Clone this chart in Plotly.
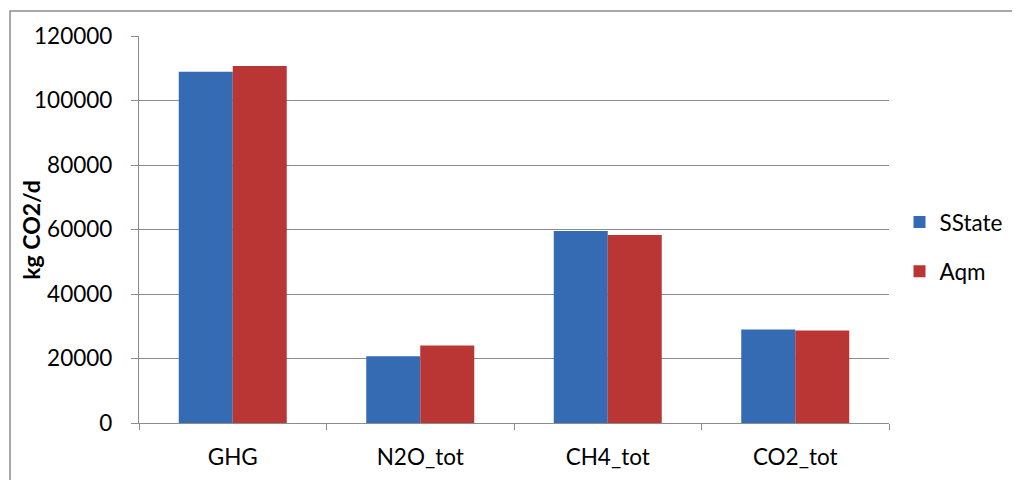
import plotly.graph_objects as go

categories = ["GHG", "N2O_tot", "CH4_tot", "CO2_tot"]
sstate = [108900, 20700, 59500, 29000]
aqm = [110700, 24000, 58300, 28700]
y_ticks = [0, 20000, 40000, 60000, 80000, 100000, 120000]
y_title = "kg CO2/d"

FONT = "Lato"
GRID = "#8c8c8c"

fig = go.Figure()
fig.add_trace(go.Bar(name="SState", x=categories, y=sstate,
                     marker=dict(color="#346bb3", line=dict(width=0)),
                     legendgroup="a"))
fig.add_trace(go.Bar(name="Aqm", x=categories, y=aqm,
                     marker=dict(color="#b93634", line=dict(width=0)),
                     legendgroup="b"))

fig.update_layout(
    width=1020, height=480,
    margin=dict(l=131, r=139, t=28, b=65, autoexpand=False),
    paper_bgcolor="white", plot_bgcolor="white",
    barmode="group", bargap=0.424, bargroupgap=0,
    font=dict(family=FONT, size=22.5, color="#000000"),
    legend=dict(x=1.014, y=0.455, xanchor="left", yanchor="middle",
                font=dict(size=22.5), tracegroupgap=17,
                itemwidth=30),
    showlegend=True,
    shapes=[dict(type="rect", xref="paper", yref="paper",
                 x0=-0.172, x1=1.19, y0=-0.2, y1=1.0646,
                 line=dict(color="#8c8c8c", width=1.5), layer="below")],
    annotations=[dict(text="<b>" + y_title + "</b>", xref="paper", yref="paper",
                      x=-0.145, y=0.5, textangle=-90, showarrow=False,
                      xanchor="center", yanchor="middle",
                      font=dict(family=FONT, size=23, color="#000000"))],
)
fig.update_xaxes(type="category", tickson="boundaries", ticks="outside",
                 ticklen=6, tickcolor=GRID, showline=True, linecolor=GRID,
                 linewidth=1.3, showgrid=False, tickfont=dict(size=22.5),
                 ticklabelstandoff=14, automargin=False)
fig.update_yaxes(range=[0, 120000], tickvals=y_ticks,
                 ticktext=[str(v) for v in y_ticks],
                 ticks="outside", ticklen=7, tickcolor=GRID,
                 showline=True, linecolor=GRID, linewidth=1.3,
                 showgrid=True, gridcolor=GRID, gridwidth=1.3,
                 zeroline=False, tickfont=dict(size=22.5),
                 ticklabelstandoff=14, automargin=False)

fig.write_html("out.html")
